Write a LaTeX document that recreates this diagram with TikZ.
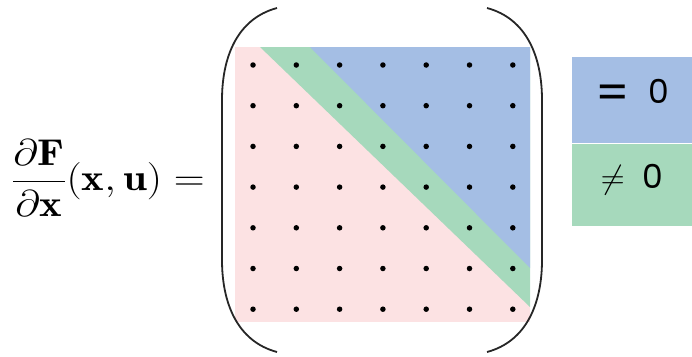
\documentclass[tikz,border=0pt]{standalone}
\usepackage{amsmath}
\usepackage{fontspec}
\newfontfamily\legendfont{Poppins}
\usetikzlibrary{positioning}
\definecolor{lowpink}{RGB}{252,226,227}
\definecolor{zeroblue}{RGB}{164,190,228}
\definecolor{nzgreen}{RGB}{166,217,188}

\begin{document}
\begin{tikzpicture}[x=1pt, y=-1pt,
  dot/.style={circle, fill=black, inner sep=0pt, minimum size=5.5pt},
  paren/.style={line width=1.8pt, black!85},
  legendbox/.style={rectangle, inner sep=0pt, minimum width=120pt,
    text height=23pt, text depth=16pt,
    font=\fontsize{33}{36}\selectfont\legendfont}
]
\useasboundingbox (0,0) rectangle (692,356);
% sparsity pattern of the matrix
\fill[lowpink] (235,47) rectangle (530,322);
\fill[nzgreen] (260,47) -- (530,47) -- (530,307) -- cycle;
\fill[zeroblue] (310,47) -- (530,47) -- (530,268) -- cycle;
\foreach \i in {0,...,6}
  \foreach \j in {0,...,6}
    \node[dot] (e\j\i) at ({253+43.3*\i},{65+40.7*\j}) {};
% big brackets
\draw[paren] (277,8) to[out=195,in=90] (222,100) -- (222,260)
  to[out=-90,in=165] (277,352);
\draw[paren] (487,8) to[out=-15,in=90] (542,100) -- (542,260)
  to[out=-90,in=15] (487,352);
\node[anchor=east, inner sep=0pt] (jac) at (205,178)
  {\scalebox{1.72}[1.5]{\Huge$\dfrac{\partial\mathbf{F}}{\partial\mathbf{x}}(\mathbf{x},\mathbf{u}) =$}};
% legend
\node[legendbox, fill=zeroblue, minimum height=86pt, anchor=north west] (zero) at (572,57)
  {\raisebox{-6pt}{\scalebox{1.45}{=}}\hspace{18pt}0};
\node[legendbox, fill=nzgreen, minimum height=82pt, below=0pt of zero] (nonzero)
  {\scalebox{1.33}{\Huge$\neq$}\hspace{18pt}0};
\end{tikzpicture}
\end{document}
